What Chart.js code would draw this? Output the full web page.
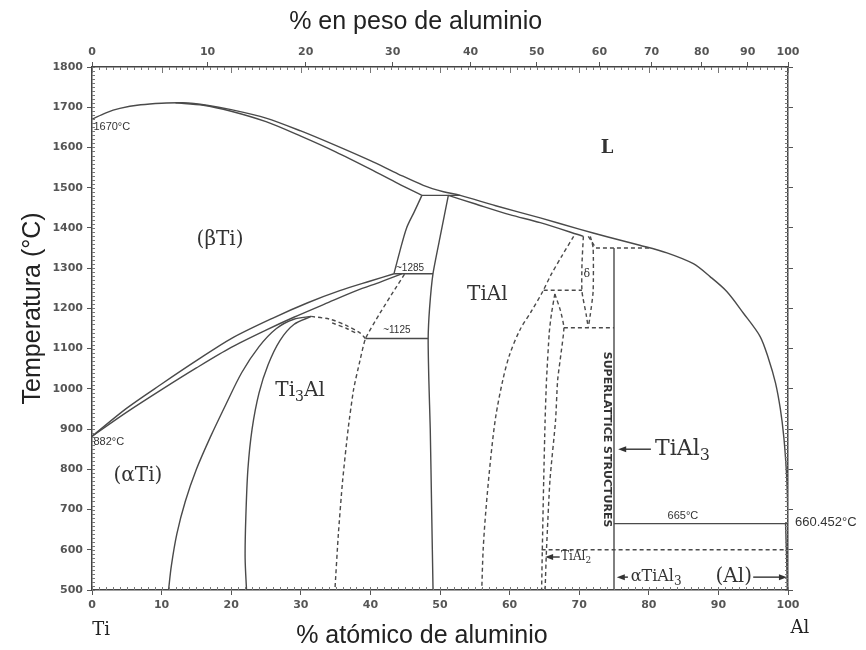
<!DOCTYPE html>
<html>
<head>
<meta charset="utf-8">
<script src="https://cdn.jsdelivr.net/npm/chart.js@4.4.1/dist/chart.umd.min.js"></script>
<style>
  html, body { margin: 0; padding: 0; background: #fff; }
  #c { display: block; }
</style>
</head>
<body>
<canvas id="c" width="866" height="650"></canvas>
<script>
// ---------- axes ----------
var X_TICKS = [0, 10, 20, 30, 40, 50, 60, 70, 80, 90, 100];            // at.% Al
var Y_TICKS = [500, 600, 700, 800, 900, 1000, 1100, 1200, 1300, 1400, 1500, 1600, 1700, 1800];
var WT_TICK_POS = [0, 16.6, 30.7, 43.2, 54.4, 63.9, 72.9, 80.4, 87.6, 94.2, 100]; // where wt.% ticks sit (at.%)
var WT_TICK_LABELS = ["0", "10", "20", "30", "40", "50", "60", "70", "80", "90", "100"];

// ---------- phase boundaries, [at.% Al, °C] ----------
var LIQUIDUS = [[0, 1670], [2, 1686], [4, 1697], [7, 1706], [10, 1710], [13, 1711], [16.5, 1705], [20, 1694],
  [25, 1673], [30, 1641], [35, 1605], [40, 1567], [44, 1534], [47.6, 1506], [50.5, 1490], [52.9, 1481],
  [58, 1455], [64.4, 1425], [70, 1397], [74, 1378], [78.7, 1357], [82.6, 1338], [86.4, 1311], [88.8, 1279],
  [91.2, 1242], [93.6, 1188], [96, 1130], [97.2, 1075], [98.2, 1015], [98.9, 950], [99.4, 880],
  [99.75, 800], [99.92, 730], [100, 661]];
var BETA_SOLIDUS = [[12, 1711], [16, 1705], [20, 1690], [25, 1664], [30, 1628], [35, 1589], [40, 1546],
  [44, 1510], [47.4, 1481]];
var PERITECTIC_1480 = [[47.4, 1481], [52.9, 1481]];
var BETA_ALPHA_HI = [[47.4, 1481], [46.3, 1440], [45.2, 1400], [44.2, 1340], [43.4, 1287]];
var GAMMA_LEFT = [[51.2, 1481], [50.1, 1385], [49.0, 1287], [48.5, 1200], [48.3, 1125], [48.4, 1020],
  [48.6, 900], [48.8, 700], [49.0, 500]];
var TIAL_SOLIDUS = [[51.2, 1481], [55, 1460], [60, 1433], [64.4, 1413], [70.6, 1379]];
var ALPHA_BETA_1 = [[0, 882], [5, 952], [10, 1012], [15, 1070], [20, 1125], [26, 1176], [31, 1214],
  [35.6, 1244], [40, 1268], [43.4, 1286]];
var ALPHA_BETA_2 = [[0, 882], [5, 942], [10, 998], [15, 1052], [20, 1103], [25, 1146], [29, 1178],
  [34, 1215], [38, 1244], [41.5, 1266], [44.5, 1286]];
var EUTECTOID_1285 = [[43.4, 1286], [49.0, 1286]];
var EUTECTOID_1125 = [[39.3, 1125], [48.3, 1125]];
var ALPHA_ALPHA2 = [[44.9, 1285], [43.5, 1247], [41.3, 1186], [39.3, 1125], [38.5, 1070], [37.6, 1000],
  [36.8, 900], [36.0, 770], [35.4, 640], [34.9, 500]];
var DOME_1 = [[31.5, 1180], [34.2, 1173], [36.6, 1157], [38.5, 1139], [39.3, 1125]];
var DOME_2 = [[34.5, 1164], [36.6, 1150], [38.2, 1136]];
var TI3AL_LEFT = [[11.0, 500], [11.4, 560], [12.2, 640], [13.4, 720], [15.0, 800], [17.0, 880], [19.2, 960],
  [21.5, 1040], [24.0, 1105], [26.5, 1150], [29.0, 1173], [31.5, 1180]];
var TI3AL_RIGHT = [[22.2, 500], [22.0, 580], [22.1, 680], [22.4, 800], [23.0, 900], [24.0, 990],
  [25.3, 1060], [27.0, 1120], [29.0, 1160], [31.5, 1180]];
var GAMMA_RIGHT = [[69.2, 1379], [67.5, 1330], [66.0, 1285], [64.7, 1240], [63.2, 1195], [61.5, 1147],
  [60.0, 1085], [59.0, 1020], [58.0, 930], [57.3, 830], [56.6, 700], [56.2, 600], [56.0, 500]];
var DASH_1245 = [[64.9, 1245], [70.4, 1245]];
var DELTA_L = [[70.6, 1379], [70.4, 1310], [70.4, 1242], [71.0, 1185], [71.3, 1152]];
var DELTA_R = [[71.6, 1379], [72.0, 1350], [72.0, 1242], [71.6, 1185], [71.3, 1152]];
var TIAL2_L = [[66.5, 1236], [66.0, 1185], [65.7, 1140], [65.3, 1021], [65.1, 921], [64.9, 773],
  [64.7, 600], [64.6, 500]];
var TIAL2_R = [[66.5, 1236], [67.3, 1195], [67.8, 1152], [67.4, 1090], [66.9, 1021], [66.6, 921],
  [65.8, 773], [65.3, 600], [65.1, 500]];
var DASH_1150 = [[67.8, 1152], [75, 1152]];
var DASH_1350 = [[71.3, 1379], [72.4, 1350], [80.2, 1350]];
var TIAL3_LINE = [[75, 1350], [75, 500]];
var LINE_665 = [[75, 665], [100, 665]];
var DASH_600 = [[64.6, 600], [100, 600]];
var AL_SOLVUS = [[99.65, 665], [99.8, 580], [99.9, 500]];

var INK = "#4a4a4a";

function boundary(label, pts, dashed, tension) {
  return {
    label: label,
    data: pts.map(function (p) { return { x: p[0], y: p[1] }; }),
    showLine: true, pointRadius: 0, pointHoverRadius: 0,
    borderColor: INK, borderWidth: 1.4,
    borderDash: dashed ? [4, 3] : [],
    tension: tension == null ? 0.3 : tension, fill: false
  };
}

var datasets = [
  boundary("liquidus", LIQUIDUS),
  boundary("beta solidus", BETA_SOLIDUS),
  boundary("1480", PERITECTIC_1480, false, 0),
  boundary("beta/alpha", BETA_ALPHA_HI),
  boundary("gamma left", GAMMA_LEFT, false, 0.2),
  boundary("TiAl solidus", TIAL_SOLIDUS),
  boundary("alpha/beta 1", ALPHA_BETA_1),
  boundary("alpha/beta 2", ALPHA_BETA_2),
  boundary("1285", EUTECTOID_1285, false, 0),
  boundary("1125", EUTECTOID_1125, false, 0),
  boundary("alpha/alpha2", ALPHA_ALPHA2, true, 0.2),
  boundary("dome 1", DOME_1, true),
  boundary("dome 2", DOME_2, true),
  boundary("Ti3Al left", TI3AL_LEFT),
  boundary("Ti3Al right", TI3AL_RIGHT),
  boundary("gamma right", GAMMA_RIGHT, true),
  boundary("1245", DASH_1245, true, 0),
  boundary("delta L", DELTA_L, true, 0.2),
  boundary("delta R", DELTA_R, true, 0.2),
  boundary("TiAl2 L", TIAL2_L, true, 0.2),
  boundary("TiAl2 R", TIAL2_R, true, 0.2),
  boundary("1150", DASH_1150, true, 0),
  boundary("1350", DASH_1350, true, 0),
  boundary("TiAl3", TIAL3_LINE, false, 0),
  boundary("665", LINE_665, false, 0),
  boundary("600", DASH_600, true, 0),
  boundary("Al solvus", AL_SOLVUS, false, 0)
];

// ---------- drawing helpers ----------
function text(ctx, s, X, Y, font, align) {
  ctx.font = font;
  ctx.textAlign = align || "center";
  ctx.textBaseline = "middle";
  ctx.fillText(s, X, Y);
}
// parts alternate normal / subscript: ["Ti", "3", "Al"]
function chem(ctx, parts, X, Y, size, align, family) {
  family = family || '"DejaVu Serif", serif';
  var big = size + "px " + family, small = Math.round(size * 0.72) + "px " + family;
  var w = 0, i;
  for (i = 0; i < parts.length; i++) { ctx.font = i % 2 ? small : big; w += ctx.measureText(parts[i]).width; }
  var cx = align === "left" ? X : X - w / 2;
  ctx.textAlign = "left"; ctx.textBaseline = "middle";
  for (i = 0; i < parts.length; i++) {
    ctx.font = i % 2 ? small : big;
    ctx.fillText(parts[i], cx, i % 2 ? Y + size * 0.3 : Y);
    cx += ctx.measureText(parts[i]).width;
  }
  return w;
}
function arrow(ctx, x1, x2, Y) {
  var d = x2 > x1 ? 1 : -1;
  ctx.beginPath(); ctx.moveTo(x1, Y); ctx.lineTo(x2 - d * 6, Y); ctx.stroke();
  ctx.beginPath(); ctx.moveTo(x2, Y); ctx.lineTo(x2 - d * 8, Y - 3); ctx.lineTo(x2 - d * 8, Y + 3);
  ctx.closePath(); ctx.fill();
}

// small inward ticks on all four sides + medium at.% ticks on the top axis
var minorTicks = {
  id: "minorTicks",
  afterDraw: function (chart) {
    var ctx = chart.ctx, a = chart.chartArea, x = chart.scales.x, y = chart.scales.y;
    ctx.save();
    ctx.strokeStyle = "#777"; ctx.lineWidth = 1;
    ctx.beginPath();
    for (var v = 0; v <= 100; v += 1) {
      var p = Math.round(x.getPixelForValue(v)) + 0.5;
      ctx.moveTo(p, a.bottom); ctx.lineTo(p, a.bottom - 3);
      ctx.moveTo(p, a.top); ctx.lineTo(p, a.top + (v % 10 === 0 ? 6 : 3));
    }
    for (var t = 500; t <= 1800; t += 10) {
      var q = Math.round(y.getPixelForValue(t)) + 0.5;
      ctx.moveTo(a.left, q); ctx.lineTo(a.left + 3, q);
      ctx.moveTo(a.right, q); ctx.lineTo(a.right - 3, q);
    }
    ctx.stroke();
    ctx.restore();
  }
};

var labels = {
  id: "labels",
  afterDraw: function (chart) {
    var ctx = chart.ctx, x = chart.scales.x, y = chart.scales.y;
    function X(v) { return x.getPixelForValue(v); }
    function Y(v) { return y.getPixelForValue(v); }
    var SANS = '"Liberation Sans", Arial, sans-serif', SERIF = '"DejaVu Serif", serif';
    ctx.save();
    ctx.fillStyle = "#222"; ctx.strokeStyle = "#222"; ctx.lineWidth = 1.3;

    // axis titles
    text(ctx, "% en peso de aluminio", X(46.5), 22, "25px " + SANS);
    text(ctx, "% atómico de aluminio", X(47.4), 636, "25px " + SANS);
    ctx.save();
    ctx.translate(33, Y(1200)); ctx.rotate(-Math.PI / 2);
    text(ctx, "Temperatura (°C)", 0, 0, "25px " + SANS);
    ctx.restore();

    // element labels under the axis
    text(ctx, "Ti", X(1.3), 630, "18px " + SERIF);
    text(ctx, "Al", X(101.7), 628, "18px " + SERIF);

    // phase fields
    ctx.fillStyle = "#333";
    text(ctx, "(\u03b2Ti)", X(18.4), Y(1371), "20px " + SERIF);
    text(ctx, "(\u03b1Ti)", X(6.6), Y(783), "20px " + SERIF);
    chem(ctx, ["Ti", "3", "Al"], X(29.9), Y(994), 20);
    text(ctx, "TiAl", X(56.8), Y(1234), "20px " + SERIF);
    text(ctx, "L", X(74.0), Y(1599), "bold 18px " + SERIF);
    text(ctx, "\u03b4", X(71.1), Y(1284), "11px " + SERIF);

    // temperatures
    text(ctx, "1670°C", X(0.2), Y(1651), "11px " + SANS, "left");
    text(ctx, "882°C", X(0.2), Y(867), "11px " + SANS, "left");
    text(ctx, "~1285", X(45.7), Y(1301), "10px " + SANS);
    text(ctx, "~1125", X(43.8), Y(1145), "10px " + SANS);
    text(ctx, "665°C", X(84.9), Y(683), "11px " + SANS);
    text(ctx, "660.452°C", X(101), Y(668), "13px " + SANS, "left");

    // pointers
    arrow(ctx, X(80.3), X(75.6), Y(850));
    chem(ctx, ["TiAl", "3"], X(80.9), Y(850), 22, "left");
    arrow(ctx, X(67.2), X(65.1), Y(582));
    chem(ctx, ["TiAl", "2"], X(67.4), Y(582), 12, "left");
    arrow(ctx, X(77.0), X(75.4), Y(532));
    chem(ctx, ["\u03b1TiAl", "3"], X(77.4), Y(532), 16, "left");
    text(ctx, "(Al)", X(92.2), Y(532), "20px " + SERIF);
    arrow(ctx, X(95.0), X(99.85), Y(532));

    // vertical note along the TiAl3 line
    ctx.save();
    ctx.translate(X(74.0), Y(874)); ctx.rotate(Math.PI / 2);
    text(ctx, "SUPERLATTICE STRUCTURES", 0, 0, 'bold 11px "DejaVu Sans", sans-serif');
    ctx.restore();

    ctx.restore();
  }
};

var TICK_FONT = { family: '"DejaVu Sans", sans-serif', size: 11, weight: "bold" };
var AXIS_BORDER = { display: true, color: "#444", width: 1.5 };
function plain(v) { return String(v); }

new Chart(document.getElementById("c"), {
  type: "scatter",
  data: { datasets: datasets },
  options: {
    responsive: false, animation: false,
    layout: { padding: 0 },
    plugins: { legend: { display: false }, tooltip: { enabled: false } },
    scales: {
      x: {
        type: "linear", position: "bottom", min: 0, max: 100,
        afterBuildTicks: function (s) { s.ticks = X_TICKS.map(function (v) { return { value: v }; }); },
        afterFit: function (s) { s.height = 60; },
        ticks: { font: TICK_FONT, color: "#555", padding: 4, maxRotation: 0, autoSkip: false, callback: plain },
        grid: { drawOnChartArea: false, drawTicks: true, tickLength: 5, tickColor: "#555" },
        border: AXIS_BORDER
      },
      x2: {
        type: "linear", position: "top", min: 0, max: 100,
        afterBuildTicks: function (s) { s.ticks = WT_TICK_POS.map(function (v) { return { value: v }; }); },
        afterFit: function (s) { s.height = 67; },
        ticks: {
          font: TICK_FONT, color: "#555", padding: 3, maxRotation: 0, autoSkip: false,
          callback: function (v, i) { return WT_TICK_LABELS[i]; }
        },
        grid: { drawOnChartArea: false, drawTicks: true, tickLength: 5, tickColor: "#555" },
        border: AXIS_BORDER
      },
      y: {
        type: "linear", position: "left", min: 500, max: 1800,
        afterBuildTicks: function (s) { s.ticks = Y_TICKS.map(function (v) { return { value: v }; }); },
        afterFit: function (s) { s.width = 92; },
        ticks: { font: TICK_FONT, color: "#555", padding: 4, autoSkip: false, callback: plain },
        grid: { drawOnChartArea: false, drawTicks: true, tickLength: 5, tickColor: "#555" },
        border: AXIS_BORDER
      },
      y2: {
        type: "linear", position: "right", min: 500, max: 1800,
        afterBuildTicks: function (s) { s.ticks = Y_TICKS.map(function (v) { return { value: v }; }); },
        afterFit: function (s) { s.width = 78; },
        ticks: { display: false },
        grid: { drawOnChartArea: false, drawTicks: true, tickLength: 5, tickColor: "#555" },
        border: AXIS_BORDER
      }
    }
  },
  plugins: [minorTicks, labels]
});
</script>
</body>
</html>
